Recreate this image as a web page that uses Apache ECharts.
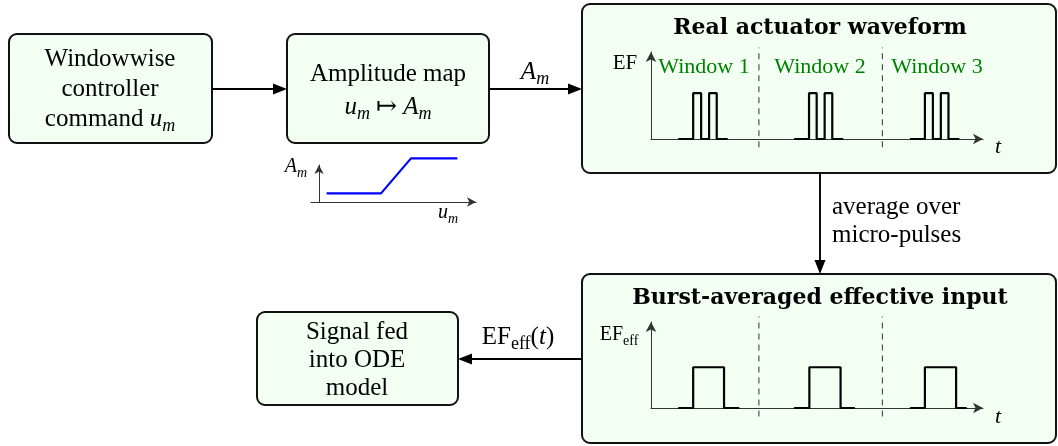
<!DOCTYPE html>
<html><head><meta charset="utf-8">
<script src="https://cdn.jsdelivr.net/npm/echarts@6/dist/echarts.min.js"></script>
<style>html,body{margin:0;padding:0;background:#fff}#c{width:1058px;height:446px}</style>
</head><body><div id="c"></div>
<script>
// ---------- data ----------
const windowLabels = ['Window 1', 'Window 2', 'Window 3'];
// real waveform: [baseline start, rise, fall, rise, fall, baseline end] per window (t units)
const burstEdgesW1 = [0.82, 1.27, 1.51, 1.75, 1.98, 2.31];
const burstEdgesW2 = [4.31, 4.76, 4.99, 5.23, 5.46, 5.79];
const burstEdgesW3 = [7.80, 8.25, 8.49, 8.73, 8.96, 9.29];
const burstAmplitude = 1.0;
// burst-averaged input: [baseline start, rise, fall, baseline end]
const effEdgesW1 = [0.82, 1.27, 2.20, 2.66];
const effEdgesW2 = [4.31, 4.77, 5.71, 6.14];
const effEdgesW3 = [7.80, 8.25, 9.19, 9.51];
const effAmplitude = 0.9;
// window boundaries (dashed)
const windowBounds = [3.25, 6.97];
// amplitude map inset u_m -> A_m
const mapU = [0.38, 3.10, 4.60, 6.92];
const mapA = [0.43, 0.43, 2.18, 2.18];

// ---------- helpers ----------
function pulsePoints(edges, amp) {
  const pts = [[edges[0], 0]];
  for (let i = 1; i < edges.length - 1; i += 2) {
    pts.push([edges[i], 0], [edges[i], amp], [edges[i + 1], amp], [edges[i + 1], 0]);
  }
  pts.push([edges[edges.length - 1], 0]);
  return pts;
}
const SERIF = "'Liberation Serif', 'DejaVu Serif', serif";
const BOLD = "'DejaVu Serif', serif";

function mkAxis(grid, min, max, arrowSize) {
  return {
    type: 'value', gridIndex: grid, min: min, max: max,
    axisLine: { show: true, onZero: true, symbol: ['none', 'arrow'], symbolSize: arrowSize,
      lineStyle: { color: '#333', width: 1 } },
    axisTick: { show: false }, axisLabel: { show: false }, splitLine: { show: false }
  };
}
function lineSeries(xi, data, color, width, type) {
  return { type: 'line', xAxisIndex: xi, yAxisIndex: xi, data: data, symbol: 'none', showSymbol: false,
    clip: false, silent: true, animation: false, z: 3,
    lineStyle: { color: color, width: width, type: type || 'solid' } };
}

const series = [];
[burstEdgesW1, burstEdgesW2, burstEdgesW3].forEach(e => series.push(lineSeries(0, pulsePoints(e, burstAmplitude), '#000', 2.2)));
[effEdgesW1, effEdgesW2, effEdgesW3].forEach(e => series.push(lineSeries(1, pulsePoints(e, effAmplitude), '#000', 2.2)));
windowBounds.forEach(b => {
  series.push(lineSeries(0, [[b, -0.18], [b, 2.0]], '#444', 1.1, [6, 5]));
  series.push(lineSeries(1, [[b, -0.19], [b, 2.02]], '#444', 1.1, [6, 5]));
});
series.push(lineSeries(2, mapU.map((u, i) => [u, mapA[i]]), '#0000ff', 2.2));

// ---------- graphic layout ----------
const G = [];
function box(x, y, w, h) {
  G.push({ type: 'rect', z: -10, shape: { x: x, y: y, width: w, height: h, r: 8 },
    style: { fill: '#f2fff2', stroke: '#111', lineWidth: 2 } });
}
function arrow(x1, y1, x2, y2) {
  const L = 14, W = 5.5;
  const dx = x2 - x1, dy = y2 - y1, len = Math.hypot(dx, dy), ux = dx / len, uy = dy / len;
  const bx = x2 - ux * L, by = y2 - uy * L;
  G.push({ type: 'line', z: 5, shape: { x1: x1, y1: y1, x2: bx + ux * 2, y2: by + uy * 2 },
    style: { stroke: '#000', lineWidth: 1.9 } });
  G.push({ type: 'polygon', z: 5, shape: { points: [[x2, y2], [bx - uy * W, by + ux * W], [bx + uy * W, by - ux * W]] },
    style: { fill: '#000' } });
}
function rs(size) {
  const sub = Math.round(size * 0.7);
  const h = Math.round(size * 0.5);
  return {
    r: { fontFamily: SERIF, fontSize: size, lineHeight: size + 2, fill: '#000' },
    i: { fontFamily: SERIF, fontSize: size, fontStyle: 'italic', lineHeight: size + 2, fill: '#000' },
    s: { fontFamily: SERIF, fontSize: sub, fontStyle: 'italic', height: h, lineHeight: 2, verticalAlign: 'bottom', fill: '#000' },
    sr: { fontFamily: SERIF, fontSize: sub, height: h, lineHeight: 2, verticalAlign: 'bottom', fill: '#000' }
  };
}
function txt(x, y, text, size, opt) {
  opt = opt || {};
  G.push({ type: 'text', z: 10, style: {
    x: x, y: y, text: text, rich: rs(size), fontFamily: opt.family || SERIF, fontSize: size,
    fontWeight: opt.weight || 'normal', fill: opt.fill || '#000',
    textAlign: opt.align || 'center', textVerticalAlign: 'middle' } });
}

box(9, 34, 203, 109);
box(287, 34, 202, 109);
box(582, 4, 474, 169);
box(582, 274, 474, 169);
box(257, 312, 201, 93);

arrow(212, 89, 287, 89);
arrow(489, 89, 582, 89);
arrow(820, 173, 820, 274);
arrow(582, 359, 458, 359);

txt(110, 59, '{r|Windowwise}', 25);
txt(110, 89, '{r|controller}', 25);
txt(110, 119, '{r|command }{i|u}{s|m}', 25);
txt(388, 74, '{r|Amplitude map}', 25);
txt(388, 107, '{i|u}{s|m}{r| ↦ }{i|A}{s|m}', 25);
txt(535, 72, '{i|A}{s|m}', 25);

txt(296, 167, '{i|A}{s|m}', 20);
txt(448, 213, '{i|u}{s|m}', 20);

txt(820, 28, 'Real actuator waveform', 22, { family: BOLD, weight: 'bold' });
txt(625, 63, '{r|EF}', 21);
windowLabels.forEach((w, k) => txt([704, 820, 937][k], 67, w, 22, { fill: '#008000' }));
txt(998, 147, '{i|t}', 22);

txt(832, 207, '{r|average over}', 25, { align: 'left' });
txt(832, 235, '{r|micro-pulses}', 25, { align: 'left' });

txt(820, 298, 'Burst-averaged effective input', 22, { family: BOLD, weight: 'bold' });
txt(619, 335, '{r|EF}{sr|eff}', 20);
txt(998, 417, '{i|t}', 22);

txt(357, 332, '{r|Signal fed}', 25);
txt(357, 360, '{r|into ODE}', 25);
txt(357, 388, '{r|model}', 25);
txt(518, 337, '{r|EF}{sr|eff}{r|(}{i|t}{r|)}', 25);

const option = {
  animation: false,
  backgroundColor: '#ffffff',
  grid: [
    { left: 651, top: 52, width: 332, height: 87 },
    { left: 651, top: 322, width: 332, height: 86 },
    { left: 311, top: 165, width: 165, height: 37 }
  ],
  xAxis: [mkAxis(0, 0, 10, [8, 10]), mkAxis(1, 0, 10, [8, 10]), mkAxis(2, -0.4, 7.85, [7, 9])],
  yAxis: [mkAxis(0, 0, 1.9, [8, 10]), mkAxis(1, 0, 1.9, [8, 10]), mkAxis(2, 0, 1.85, [7, 9])],
  series: series,
  graphic: G
};
const chart = echarts.init(document.getElementById('c'), null, { renderer: 'canvas', width: 1058, height: 446 });
chart.setOption(option);
</script></body></html>
